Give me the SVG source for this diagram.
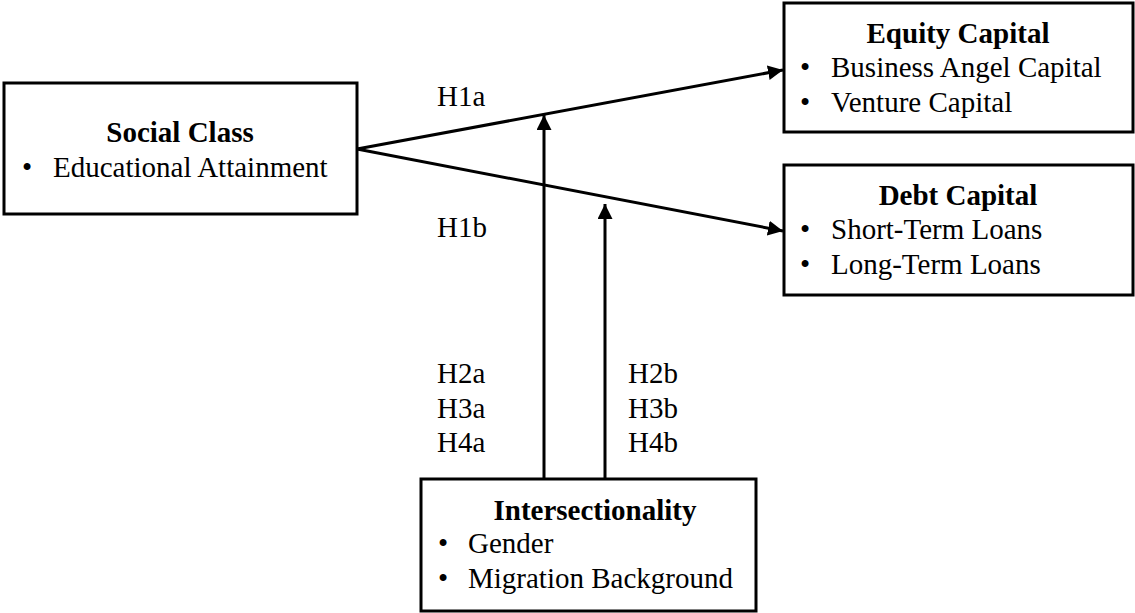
<svg xmlns="http://www.w3.org/2000/svg" width="1135" height="613" viewBox="0 0 1135 613">
  <style>
    .box { fill: #ffffff; stroke: #000000; stroke-width: 3; }
    .title { font-family: "Liberation Serif", "Times New Roman", serif; font-size: 29px; font-weight: bold; text-anchor: middle; fill: #000; }
    .item { font-family: "Liberation Serif", "Times New Roman", serif; font-size: 29px; fill: #000; }
    .lbl { font-family: "Liberation Serif", "Times New Roman", serif; font-size: 29px; fill: #000; }
    .edge { stroke: #000000; stroke-width: 3; fill: none; marker-end: url(#arrow); }
  </style>
  <defs>
    <marker id="arrow" markerUnits="userSpaceOnUse" markerWidth="16" markerHeight="16" refX="15" refY="7.5" orient="auto">
      <path d="M0,0 L15,7.5 L0,15 z" fill="#000000"/>
    </marker>
  </defs>
  <rect width="1135" height="613" fill="#ffffff"/>

  <g id="connectors">
    <line class="edge" x1="357" y1="149" x2="783" y2="70"/>
    <line class="edge" x1="357" y1="149" x2="783" y2="231"/>
    <line class="edge" x1="544" y1="479" x2="544" y2="115"/>
    <line class="edge" x1="605" y1="479" x2="605" y2="204"/>
    <text class="lbl" x="437" y="106">H1a</text>
    <text class="lbl" x="437" y="237">H1b</text>
    <text class="lbl" x="437" y="383">H2a</text>
    <text class="lbl" x="437" y="418">H3a</text>
    <text class="lbl" x="437" y="452">H4a</text>
    <text class="lbl" x="628" y="383">H2b</text>
    <text class="lbl" x="628" y="418">H3b</text>
    <text class="lbl" x="628" y="452">H4b</text>
  </g>

  <g id="social-class">
    <rect class="box" x="4" y="83" width="353" height="131"/>
    <text class="title" x="180" y="142">Social Class</text>
    <text class="item" x="22" y="177">•</text>
    <text class="item" x="53" y="177">Educational Attainment</text>
  </g>

  <g id="equity-capital">
    <rect class="box" x="784" y="3" width="349" height="129"/>
    <text class="title" x="958" y="43">Equity Capital</text>
    <text class="item" x="800" y="77">•</text>
    <text class="item" x="831" y="77">Business Angel Capital</text>
    <text class="item" x="800" y="112">•</text>
    <text class="item" x="831" y="112">Venture Capital</text>
  </g>

  <g id="debt-capital">
    <rect class="box" x="784" y="165" width="349" height="130"/>
    <text class="title" x="958" y="205">Debt Capital</text>
    <text class="item" x="800" y="239">•</text>
    <text class="item" x="831" y="239">Short-Term Loans</text>
    <text class="item" x="800" y="274">•</text>
    <text class="item" x="831" y="274">Long-Term Loans</text>
  </g>

  <g id="intersectionality">
    <rect class="box" x="421" y="479" width="335" height="132"/>
    <text class="title" x="595" y="520">Intersectionality</text>
    <text class="item" x="438" y="553">•</text>
    <text class="item" x="468" y="553">Gender</text>
    <text class="item" x="438" y="588">•</text>
    <text class="item" x="468" y="588">Migration Background</text>
  </g>
</svg>
